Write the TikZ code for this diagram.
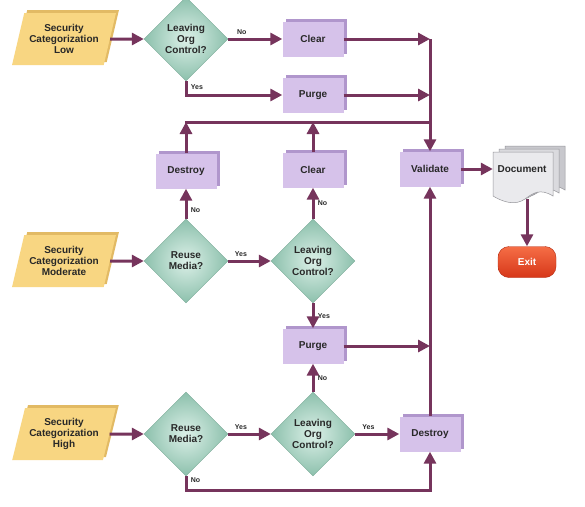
\documentclass[tikz,border=0pt]{standalone}
\usepackage{fontspec}
\setmainfont{Liberation Sans}
\usetikzlibrary{shapes.geometric,arrows.meta,shadows}
\definecolor{catfill}{RGB}{248,214,130}
\definecolor{catside}{RGB}{226,186,100}
\definecolor{askin}{RGB}{220,240,232}
\definecolor{askout}{RGB}{140,192,172}
\definecolor{askline}{RGB}{120,170,150}
\definecolor{actfill}{RGB}{214,194,234}
\definecolor{actside}{RGB}{176,150,204}
\definecolor{flow}{RGB}{118,52,92}
\definecolor{txt}{RGB}{40,40,40}
\definecolor{exittop}{RGB}{245,110,70}
\definecolor{exitbot}{RGB}{215,55,25}
\definecolor{exitline}{RGB}{180,45,20}
\definecolor{pagefront}{RGB}{234,234,237}
\definecolor{pagemid}{RGB}{218,218,222}
\definecolor{pageback}{RGB}{200,200,205}
\definecolor{pageline}{RGB}{150,150,155}
\newcommand{\docpage}{(493,152) -- (553,152) -- (553,196) .. controls (540,188) and (533,193) .. (525,199) .. controls (515,206) and (503,202) .. (493,196) -- cycle}
\begin{document}
\begin{tikzpicture}[x=1pt,y=-1pt,
	every node/.style={font=\fontsize{10}{11}\selectfont\bfseries,align=center,text=txt},
	cat/.style={trapezium,trapezium left angle=70,trapezium right angle=110,trapezium stretches=true,minimum width=104pt,minimum height=52pt,inner sep=0pt,fill=catfill,general shadow={fill=catside,shadow xshift=3pt,shadow yshift=3pt}},
	ask/.style={diamond,minimum width=84pt,minimum height=84pt,inner sep=0pt,shade,inner color=askin,outer color=askout,draw=askline,line width=.4pt},
	act/.style={minimum width=61pt,minimum height=35pt,inner sep=1pt,fill=actfill,general shadow={fill=actside,shadow xshift=3pt,shadow yshift=3pt}},
	exitbox/.style={rounded corners=11pt,minimum width=58pt,minimum height=31pt,top color=exittop,bottom color=exitbot,draw=exitline,text=white},
	lab/.style={font=\fontsize{7}{8}\selectfont\bfseries},
	flow/.style={draw=flow,line width=3pt,-{Triangle[length=12pt,width=12pt]}},
	wire/.style={draw=flow,line width=3pt,line cap=rect},
	page/.style={draw=pageline,line width=.5pt}]
	\path[fill=white,use as bounding box] (0,0) rectangle (585,506);
	\node[cat] (lowin) at (64,39) {Security\\Categorization\\Low};
	\node[ask] (dlow) at (186,39) {Leaving\\Org\\Control?};
	\node[act] (clear1) at (313,39) {Clear};
	\node[act] (purge1) at (313,95) {Purge};
	\node[act] (destroy2) at (186,171) {Destroy};
	\node[act] (clear2) at (313,170) {Clear};
	\node[act] (validate) at (430,169) {Validate};
	\node[cat] (modin) at (64,261) {Security\\Categorization\\Moderate};
	\node[ask] (dreuse2) at (186,261) {Reuse\\Media?};
	\node[ask] (dleave2) at (313,261) {Leaving\\Org\\Control?};
	\node[act] (purge2) at (313,346) {Purge};
	\node[cat] (highin) at (64,434) {Security\\Categorization\\High};
	\node[ask] (dreuse3) at (186,434) {Reuse\\Media?};
	\node[ask] (dleave3) at (313,434) {Leaving\\Org\\Control?};
	\node[act] (destroy3) at (430,434) {Destroy};
	\draw[page,fill=pageback,shift={(12,-6)}] \docpage;
	\draw[page,fill=pagemid,shift={(6,-3)}] \docpage;
	\draw[page,fill=pagefront] \docpage;
	\node[minimum width=58pt,minimum height=34pt] (doc) at (522,169) {Document};
	\node[exitbox] (exit) at (527,262) {Exit};
	\coordinate (jc) at (430,39);
	\coordinate (jp) at (430,95);
	\coordinate (jm) at (430,122);
	\coordinate (jpm) at (430,346);
	\coordinate (bot) at (186,490);
	\coordinate (docfoot) at (527,199);
	\draw[flow] (lowin.east) -- (dlow.west);
	\draw[flow] (dlow.east) -- node[lab,above,pos=.25] (n1) {No} (clear1.west);
	\draw[flow] (dlow.south) |- node[lab,anchor=west,pos=.2] (n2) {Yes} (purge1.west);
	\draw[flow] (clear1.east) -- (jc);
	\draw[flow] (purge1.east) -- (jp);
	\draw[flow] (jc) -- (validate.north);
	\draw[wire] (destroy2.north |- jm) -- (jm);
	\draw[flow] (destroy2.north) -- (destroy2.north |- jm);
	\draw[flow] (clear2.north) -- (clear2.north |- jm);
	\draw[flow] (validate.east) -- (doc.west);
	\draw[flow] (docfoot) -- (exit.north);
	\draw[flow] (modin.east) -- (dreuse2.west);
	\draw[flow] (dreuse2.north) -- node[lab,right,pos=.3] (n3) {No} (destroy2.south);
	\draw[flow] (dreuse2.east) -- node[lab,above,pos=.3] (n4) {Yes} (dleave2.west);
	\draw[flow] (dleave2.north) -- node[lab,right] (n5) {No} (clear2.south);
	\draw[flow] (dleave2.south) -- node[lab,right] (n6) {Yes} (purge2.north);
	\draw[flow] (purge2.east) -- (jpm);
	\draw[flow] (destroy3.north) -- (validate.south);
	\draw[flow] (highin.east) -- (dreuse3.west);
	\draw[flow] (dreuse3.east) -- node[lab,above,pos=.3] (n7) {Yes} (dleave3.west);
	\draw[flow] (dleave3.north) -- node[lab,right] (n8) {No} (purge2.south);
	\draw[flow] (dleave3.east) -- node[lab,above,pos=.3] (n9) {Yes} (destroy3.west);
	\draw[flow] (dreuse3.south) -- node[lab,right,pos=.3] (n10) {No} (bot) -| (destroy3.south);
\end{tikzpicture}
\end{document}
